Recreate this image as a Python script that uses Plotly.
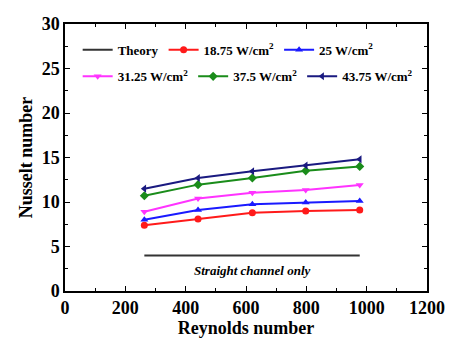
import plotly.graph_objects as go

re_vals = [263, 441, 621, 798, 977]
theory_x = [263, 977]
theory_y = [4.0, 4.0]
series_names = ["18.75 W/cm<sup>2</sup>", "25 W/cm<sup>2</sup>", "31.25 W/cm<sup>2</sup>",
                "37.5 W/cm<sup>2</sup>", "43.75 W/cm<sup>2</sup>"]
nu_1875 = [7.4, 8.1, 8.8, 9.0, 9.1]
nu_25 = [8.0, 9.1, 9.75, 9.95, 10.1]
nu_3125 = [8.9, 10.4, 11.05, 11.35, 11.9]
nu_375 = [10.7, 11.95, 12.7, 13.5, 14.0]
nu_4375 = [11.5, 12.7, 13.45, 14.1, 14.8]
series_vals = [nu_1875, nu_25, nu_3125, nu_375, nu_4375]
colors = ["#ff1a1a", "#1a1aff", "#ff33ff", "#1a8c1a", "#1a1a80"]
symbols = ["circle", "triangle-up", "triangle-down", "diamond", "triangle-left"]
legends = ["legend", "legend", "legend2", "legend2", "legend2"]

FF = "Liberation Serif, Times New Roman, serif"
def f(size, style="normal"):
    return dict(family=FF, size=size, color="black", weight="bold", style=style)

fig = go.Figure()
fig.add_trace(go.Scatter(x=theory_x, y=theory_y, mode="lines", name="Theory",
                         line=dict(color="#333333", width=2), legend="legend"))
for name, vals, c, s, lg in zip(series_names, series_vals, colors, symbols, legends):
    fig.add_trace(go.Scatter(x=re_vals, y=vals, mode="lines+markers", name=name,
                             line=dict(color=c, width=2),
                             marker=dict(symbol=s, size=7, color=c),
                             legend=lg))

fig.add_annotation(x=620, y=2.3, text="Straight channel only", showarrow=False,
                   font=f(13, "italic"))

axis_common = dict(showline=True, linecolor="black", linewidth=1.5, mirror="ticks",
                   ticks="inside", ticklen=5, tickcolor="black", showgrid=False, zeroline=False,
                   tickfont=f(18))
fig.update_xaxes(range=[0, 1200], dtick=200,
                 minor=dict(ticks="inside", ticklen=3, dtick=100, tickcolor="black"),
                 title=dict(text="Reynolds number", font=f(18), standoff=2),
                 **axis_common)
fig.update_yaxes(range=[0, 30], dtick=5,
                 minor=dict(ticks="inside", ticklen=3, dtick=2.5, tickcolor="black"),
                 title=dict(text="Nusselt number", font=f(18), standoff=4),
                 **axis_common)

fig.update_layout(
    width=466, height=346,
    margin=dict(l=65, r=39, t=24, b=55),
    plot_bgcolor="white", paper_bgcolor="white",
    legend=dict(orientation="h", x=0.035, y=0.96, xanchor="left", yanchor="top",
                font=f(13), bgcolor="rgba(0,0,0,0)", itemwidth=30),
    legend2=dict(orientation="h", x=0.035, y=0.86, xanchor="left", yanchor="top",
                 font=f(13), bgcolor="rgba(0,0,0,0)", itemwidth=30),
)
fig.write_html("out.html")
